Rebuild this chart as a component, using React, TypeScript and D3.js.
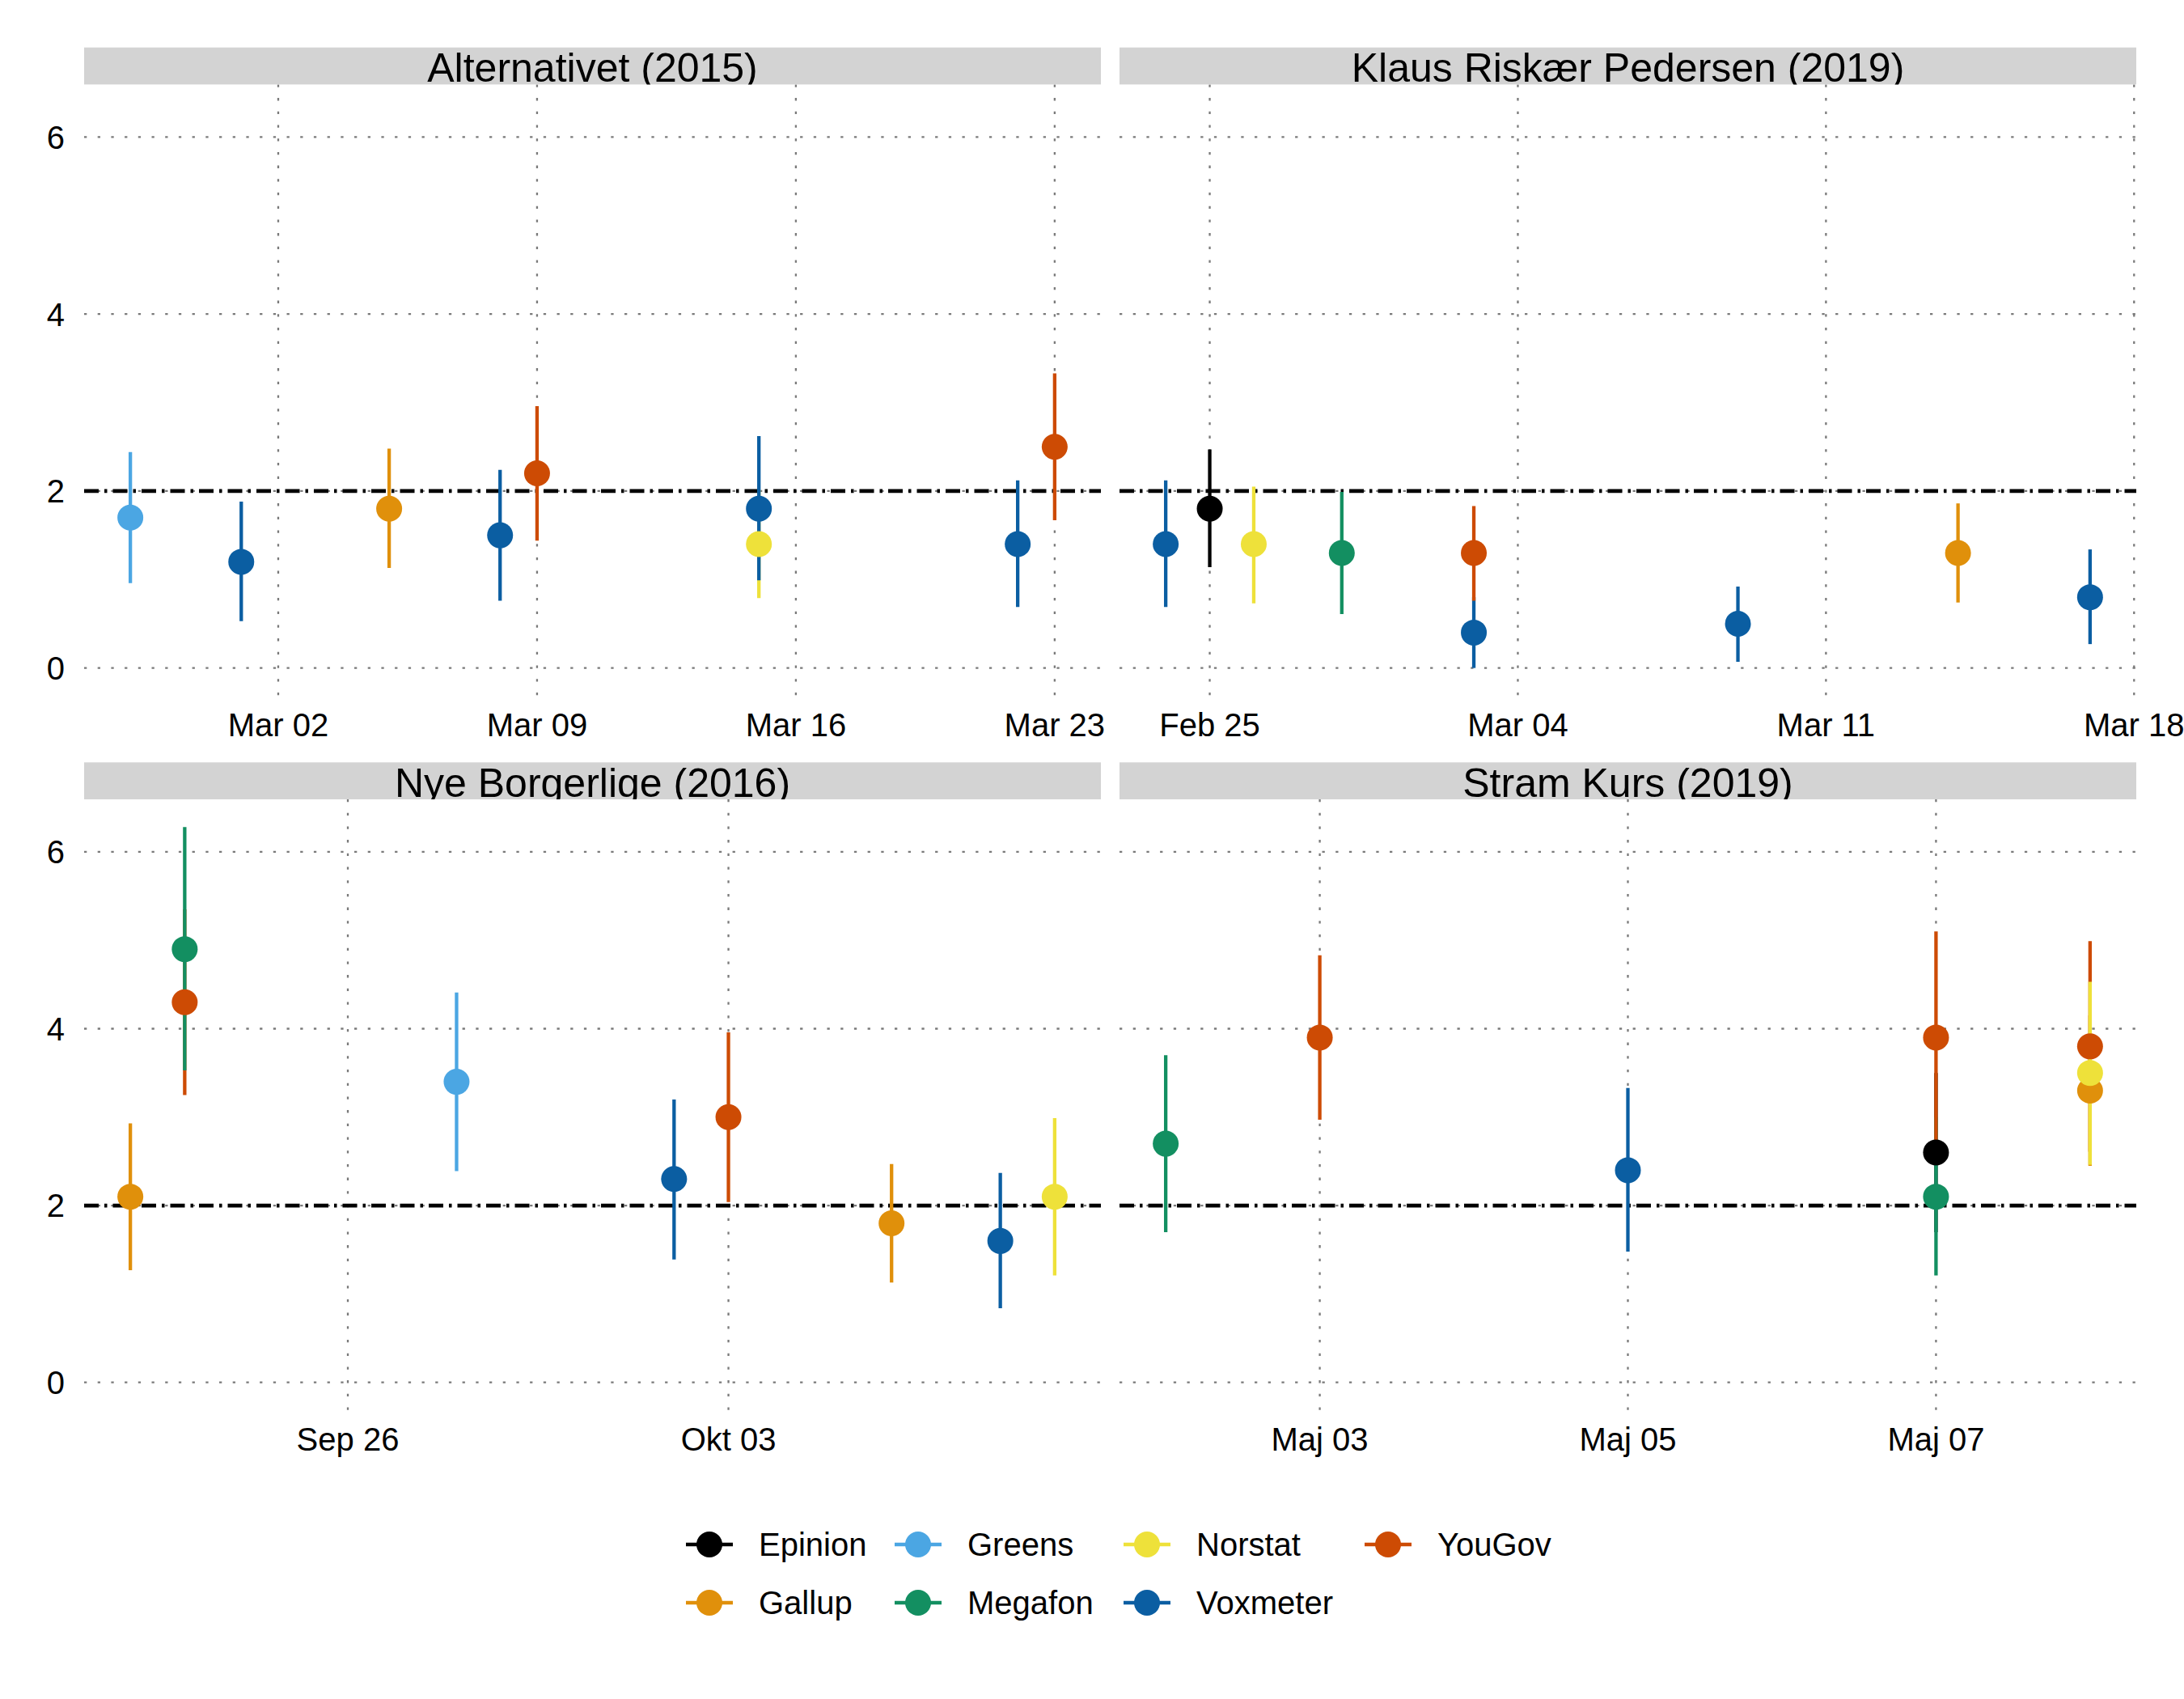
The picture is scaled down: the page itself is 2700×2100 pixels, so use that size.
import React, { useEffect } from "react";
import * as d3 from "d3";

const W = 2700;
const H = 2100;

const pollsters = ["Epinion", "Gallup", "Greens", "Megafon", "Norstat", "Voxmeter", "YouGov"];
const pollsterColors = ["#000000", "#E0900B", "#4BA6E3", "#138F61", "#EEE13A", "#0B5EA2", "#CD4B04"];

type Row = [string, string, number, number, number]; // date, pollster, estimate, low, high

const alternativet: Row[] = [
  ["2015-02-26", "Greens", 1.7, 0.96, 2.44],
  ["2015-03-01", "Voxmeter", 1.2, 0.53, 1.88],
  ["2015-03-05", "Gallup", 1.8, 1.13, 2.48],
  ["2015-03-08", "Voxmeter", 1.5, 0.76, 2.24],
  ["2015-03-09", "YouGov", 2.2, 1.44, 2.96],
  ["2015-03-15", "Norstat", 1.4, 0.79, 2.01],
  ["2015-03-15", "Voxmeter", 1.8, 0.99, 2.62],
  ["2015-03-22", "Voxmeter", 1.4, 0.69, 2.12],
  ["2015-03-23", "YouGov", 2.5, 1.67, 3.33],
];

const klaus: Row[] = [
  ["2019-02-24", "Voxmeter", 1.4, 0.69, 2.12],
  ["2019-02-25", "Epinion", 1.8, 1.14, 2.47],
  ["2019-02-26", "Norstat", 1.4, 0.73, 2.05],
  ["2019-02-28", "Megafon", 1.3, 0.61, 1.99],
  ["2019-03-03", "Voxmeter", 0.4, 0.0, 0.8],
  ["2019-03-03", "YouGov", 1.3, 0.76, 1.83],
  ["2019-03-09", "Voxmeter", 0.5, 0.07, 0.92],
  ["2019-03-14", "Gallup", 1.3, 0.74, 1.86],
  ["2019-03-17", "Voxmeter", 0.8, 0.27, 1.34],
];

const nyeBorgerlige: Row[] = [
  ["2016-09-22", "Gallup", 2.1, 1.27, 2.93],
  ["2016-09-23", "YouGov", 4.3, 3.25, 5.35],
  ["2016-09-23", "Megafon", 4.9, 3.53, 6.28],
  ["2016-09-28", "Greens", 3.4, 2.39, 4.41],
  ["2016-10-02", "Voxmeter", 2.3, 1.39, 3.2],
  ["2016-10-03", "YouGov", 3.0, 2.04, 3.96],
  ["2016-10-06", "Gallup", 1.8, 1.13, 2.47],
  ["2016-10-08", "Voxmeter", 1.6, 0.84, 2.37],
  ["2016-10-09", "Norstat", 2.1, 1.21, 2.99],
];

const stramKurs: Row[] = [
  ["2019-05-02", "Megafon", 2.7, 1.7, 3.7],
  ["2019-05-03", "YouGov", 3.9, 2.97, 4.83],
  ["2019-05-05", "Voxmeter", 2.4, 1.48, 3.33],
  ["2019-05-07", "Epinion", 2.6, 1.7, 3.5],
  ["2019-05-07", "Megafon", 2.1, 1.21, 3.0],
  ["2019-05-07", "YouGov", 3.9, 2.7, 5.1],
  ["2019-05-08", "Gallup", 3.3, 2.45, 4.15],
  ["2019-05-08", "YouGov", 3.8, 2.61, 4.99],
  ["2019-05-08", "Norstat", 3.5, 2.46, 4.53],
];

const panelTitles = ["Alternativet (2015)", "Klaus Riskær Pedersen (2019)", "Nye Borgerlige (2016)", "Stram Kurs (2019)"];
const altTicks = ["2015-03-02", "2015-03-09", "2015-03-16", "2015-03-23"];
const klausTicks = ["2019-02-25", "2019-03-04", "2019-03-11", "2019-03-18"];
const nyeTicks = ["2016-09-26", "2016-10-03"];
const stramTicks = ["2019-05-03", "2019-05-05", "2019-05-07"];
const yTicks = [0, 2, 4, 6];
const threshold = 2;
const monthsDa = ["Jan", "Feb", "Mar", "Apr", "Maj", "Jun", "Jul", "Aug", "Sep", "Okt", "Nov", "Dec"];

const panelRows = [alternativet, klaus, nyeBorgerlige, stramKurs];
const panelTicks = [altTicks, klausTicks, nyeTicks, stramTicks];

// layout
const colX: [number, number][] = [[104, 1361], [1384, 2641]];
const rowY: [number, number][] = [[104.4, 860], [988, 1743]];
const stripH = 45.7;
const FONT = "'Liberation Sans', Arial, Helvetica, sans-serif";
const legendColX = [877, 1135, 1418, 1716];
const legendRowY = [1909, 1981];

const parse = (s: string) => d3.utcParse("%Y-%m-%d")(s) as Date;
const fmt = (d: Date) => `${monthsDa[d.getUTCMonth()]} ${String(d.getUTCDate()).padStart(2, "0")}`;
const colorOf = d3.scaleOrdinal<string, string>().domain(pollsters).range(pollsterColors);

const allLo = d3.min(panelRows.flat(), (r) => r[3]) as number;
const allHi = d3.max(panelRows.flat(), (r) => r[4]) as number;
const ySpan = allHi - allLo;

function Panel({ idx }: { idx: number }) {
  const col = idx % 2;
  const row = Math.floor(idx / 2);
  const [x0, x1] = colX[col];
  const [y0, y1] = rowY[row];
  const rows = panelRows[idx];
  const dates = rows.map((r) => parse(r[0]).getTime());
  const dMin = d3.min(dates) as number;
  const dMax = d3.max(dates) as number;
  const pad = (dMax - dMin) * 0.05;
  const x = d3.scaleUtc().domain([new Date(dMin - pad), new Date(dMax + pad)]).range([x0, x1]);
  const y = d3
    .scaleLinear()
    .domain([allLo - ySpan * 0.05, allHi + ySpan * 0.05])
    .range([y1, y0]);
  const ticks = panelTicks[idx].map(parse);
  const clipId = `strip-clip-${idx}`;
  return (
    <g>
      <defs>
        <clipPath id={clipId}>
          <rect x={x0} y={y0 - stripH} width={x1 - x0} height={stripH} />
        </clipPath>
      </defs>
      {yTicks.map((t) => (
        <line key={"h" + t} x1={x0} x2={x1} y1={y(t)} y2={y(t)} stroke="#7a7a7a" strokeWidth={2.3} strokeDasharray="3.3 13.4" />
      ))}
      {ticks.map((t, i) => (
        <line key={"v" + i} x1={x(t)} x2={x(t)} y1={y0} y2={y1} stroke="#7a7a7a" strokeWidth={2.3} strokeDasharray="3.3 13.4" />
      ))}
      <line x1={x0} x2={x1} y1={y(threshold)} y2={y(threshold)} stroke="#000" strokeWidth={4.8} strokeDasharray="18 7 3.5 7" />
      {rows.map((r, i) => (
        <line key={"l" + i} x1={x(parse(r[0]))} x2={x(parse(r[0]))} y1={y(r[3])} y2={y(r[4])} stroke={colorOf(r[1])} strokeWidth={4.3} />
      ))}
      {rows.map((r, i) => (
        <circle key={"p" + i} cx={x(parse(r[0]))} cy={y(r[2])} r={16} fill={colorOf(r[1])} />
      ))}
      <rect x={x0} y={y0 - stripH} width={x1 - x0} height={stripH} fill="#d3d3d3" />
      <g clipPath={`url(#${clipId})`}>
        <text x={(x0 + x1) / 2} y={y0 - 3.5} textAnchor="middle" fontSize={50} fontFamily={FONT} fill="#000">
          {panelTitles[idx]}
        </text>
      </g>
      {ticks.map((t, i) => (
        <text key={"xt" + i} x={x(t)} y={y1 + 49.5} textAnchor="middle" fontSize={40} fontFamily={FONT} fill="#000">
          {fmt(t)}
        </text>
      ))}
      {col === 0 &&
        yTicks.map((t) => (
          <text key={"yt" + t} x={80} y={y(t)} dy="0.36em" textAnchor="end" fontSize={40} fontFamily={FONT} fill="#000">
            {t}
          </text>
        ))}
    </g>
  );
}

function Legend() {
  return (
    <g>
      {pollsters.map((p, i) => {
        const c = Math.floor(i / 2);
        const r = i % 2;
        const cx = legendColX[c];
        const cy = legendRowY[r];
        return (
          <g key={p}>
            <line x1={cx - 29} x2={cx + 29} y1={cy} y2={cy} stroke={colorOf(p)} strokeWidth={4.3} />
            <circle cx={cx} cy={cy} r={16} fill={colorOf(p)} />
            <text x={cx + 61} y={cy} dy="0.36em" fontSize={40} fontFamily={FONT} fill="#000">
              {p}
            </text>
          </g>
        );
      })}
    </g>
  );
}

export default function App() {
  useEffect(() => {
    document.body.style.margin = "0";
  }, []);
  return (
    <svg width={W} height={H} viewBox={`0 0 ${W} ${H}`} style={{ display: "block", position: "absolute", left: 0, top: 0, background: "#fff" }}>
      <rect x={0} y={0} width={W} height={H} fill="#fff" />
      {[0, 1, 2, 3].map((i) => (
        <Panel key={i} idx={i} />
      ))}
      <Legend />
    </svg>
  );
}
